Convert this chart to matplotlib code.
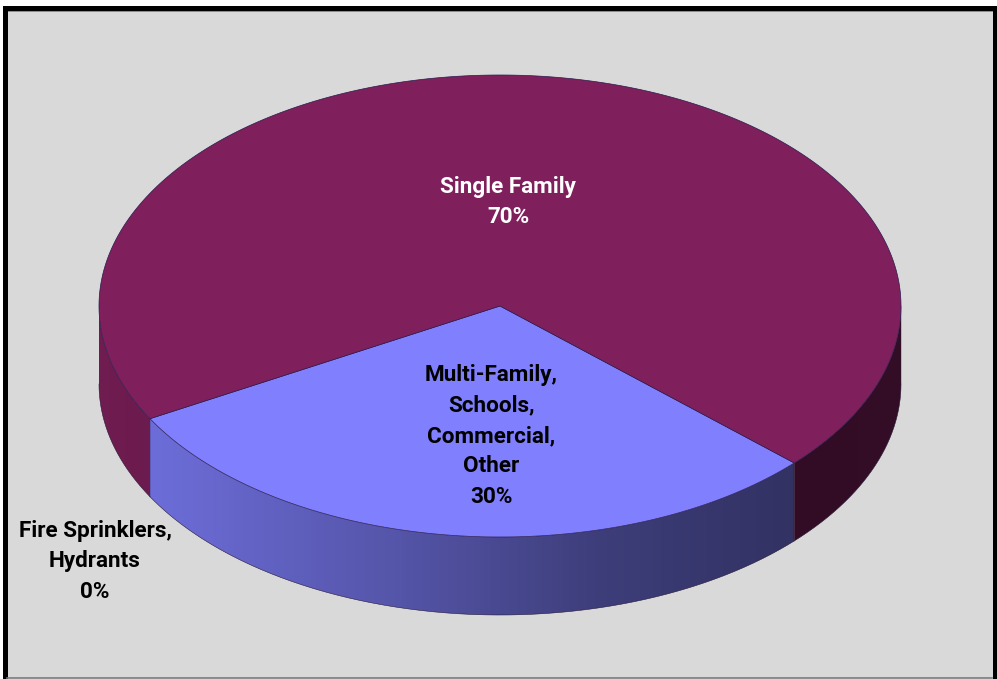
import matplotlib
matplotlib.use('Agg')
import matplotlib.pyplot as plt
import numpy as np
from matplotlib.colors import to_rgb
from matplotlib.patches import Polygon, Rectangle

# Porciones del pastel, en el orden en que se dibujan
labels = ['Multi-Family,\nSchools,\nCommercial,\nOther\n30%',
          'Fire Sprinklers,\nHydrants\n0%',
          'Single Family\n70%']
values = [30, 0, 70]
top_colors = ['#8080ff', '#ffffcc', '#7f205c']
label_xy = [(491, 436), (95, 561), (508, 202)]
label_colors = ['black', 'black', 'white']

# Sombreado de la pared lateral segun la posicion horizontal
shade_x = [100, 153, 400, 600, 791, 902]
shade_k = [0.88, 0.85, 0.66, 0.48, 0.39, 0.41]

# Geometria del disco, en pixeles de la figura
cx, cy = 500, 306
rx, ry = 401, 231
depth = 78
start = 42.8

plt.rcParams['font.family'] = ['Roboto', 'Liberation Sans']

fig = plt.figure(figsize=(9.97, 6.79), dpi=100, facecolor='white')
ax = fig.add_axes([0, 0, 1, 1])
ax.axis('off')

# Fondo gris y marco negro
ax.add_patch(Rectangle((5, 8), 989, 670, facecolor='#d9d9d9', edgecolor='none', zorder=0))
ax.plot([5, 5, 994.5, 994.5], [679, 8, 8, 679], color='black', lw=3.6, zorder=1,
        solid_joinstyle='miter', solid_capstyle='butt')
ax.plot([7.5, 992], [10.5, 10.5], color='#8a8a8a', lw=0.7, zorder=1)
ax.plot([7, 992], [678, 678], color='#7a7a7a', lw=1.2, zorder=1)


def arc(a0, a1, n=300):
    t = np.radians(np.linspace(a0, a1, n))
    return cx + rx * np.cos(t), cy + ry * np.sin(t)


# Pared lateral: solo la parte frontal del disco (0 a 180 grados)
angle = start
for value, color in zip(values, top_colors):
    sweep = value / sum(values) * 360
    a0, a1 = angle, angle + sweep
    angle = a1
    for lo, hi in [(0, 180), (360, 540)]:
        s0, s1 = max(a0, lo), min(a1, hi)
        if s1 <= s0:
            continue
        x, y = arc(s0, s1)
        xs = np.r_[x, x[::-1]]
        ys = np.r_[y, y[::-1] + depth]
        wall = Polygon(np.c_[xs, ys], closed=True, facecolor='none', edgecolor='none', zorder=2)
        ax.add_patch(wall)
        columns = np.linspace(x.min(), x.max(), 256)
        k = np.interp(columns, shade_x, shade_k)
        rgb = np.outer(k, to_rgb(color)).reshape(1, -1, 3)
        img = ax.imshow(rgb, aspect='auto', zorder=2, interpolation='bilinear',
                        extent=[x.min(), x.max(), ys.max(), ys.min()])
        img.set_clip_path(wall)
        ax.plot(x, y + depth, color='#2a1a3a', lw=0.4, zorder=3)
        ax.plot([x[0], x[0]], [y[0], y[0] + depth], color='#2a1a3a', lw=0.3, zorder=3)

# Cara superior
angle = start
for value, color in zip(values, top_colors):
    sweep = value / sum(values) * 360
    if sweep > 0:
        x, y = arc(angle, angle + sweep, 500)
        ax.add_patch(Polygon(np.c_[np.r_[cx, x], np.r_[cy, y]], closed=True, facecolor=color,
                             edgecolor='#2a1a50', lw=0.5, zorder=4))
    angle += sweep

# Etiquetas
for label, (tx, ty), color in zip(labels, label_xy, label_colors):
    ax.text(tx, ty, label, ha='center', va='center', color=color, fontsize=16.2,
            fontweight='bold', linespacing=1.5, zorder=5)

ax.set_xlim(0, 997)
ax.set_ylim(679, 0)
fig.savefig('out.png', dpi=100, facecolor='white')
